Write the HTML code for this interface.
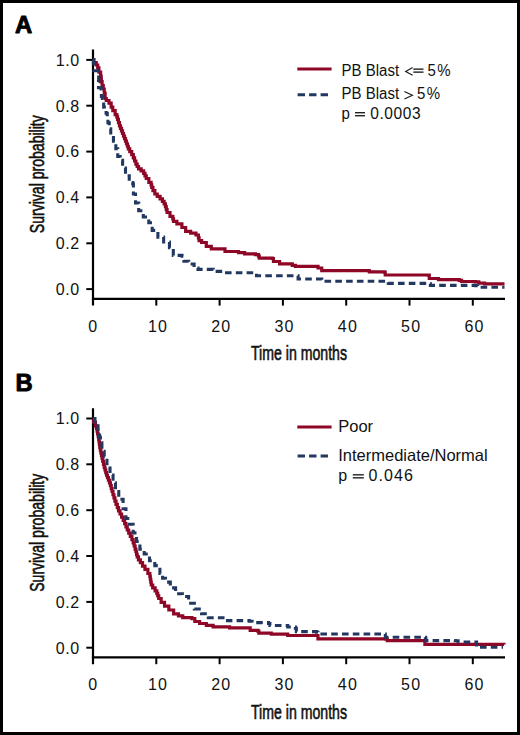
<!DOCTYPE html>
<html><head><meta charset="utf-8"><style>
html,body{margin:0;padding:0;background:#fff;overflow:hidden;width:520px;height:735px;}
svg{display:block;}
text{font-family:"Liberation Sans",sans-serif;fill:#111;}
.tk{font-size:16px;}
.lg{font-size:15px;}
.ax{font-size:19.5px;stroke:#111;stroke-width:0.6px;}
.pl{font-size:23.8px;font-weight:bold;fill:#000;stroke:#000;stroke-width:0.9px;stroke-linejoin:round;}
</style></head><body>
<svg width="520" height="735" viewBox="0 0 520 735">
<rect x="1.5" y="1.5" width="517" height="732" fill="#fff" stroke="#000" stroke-width="3"/>
<text x="15.1" y="32.6" class="pl">A</text>
<text x="15.4" y="390.9" class="pl">B</text>
<line x1="93.0" y1="49.6" x2="93.0" y2="305.6" stroke="#000" stroke-width="2.2"/>
<line x1="91.9" y1="298.8" x2="505" y2="298.8" stroke="#000" stroke-width="2.2"/>
<line x1="86.3" y1="289.1" x2="93.0" y2="289.1" stroke="#000" stroke-width="2"/>
<text x="55.8" y="294.9" class="tk" letter-spacing="0.6">0.0</text>
<line x1="86.3" y1="243.3" x2="93.0" y2="243.3" stroke="#000" stroke-width="2"/>
<text x="55.8" y="249.1" class="tk" letter-spacing="0.6">0.2</text>
<line x1="86.3" y1="197.4" x2="93.0" y2="197.4" stroke="#000" stroke-width="2"/>
<text x="55.8" y="203.2" class="tk" letter-spacing="0.6">0.4</text>
<line x1="86.3" y1="151.6" x2="93.0" y2="151.6" stroke="#000" stroke-width="2"/>
<text x="55.8" y="157.4" class="tk" letter-spacing="0.6">0.6</text>
<line x1="86.3" y1="105.7" x2="93.0" y2="105.7" stroke="#000" stroke-width="2"/>
<text x="55.8" y="111.5" class="tk" letter-spacing="0.6">0.8</text>
<line x1="86.3" y1="59.9" x2="93.0" y2="59.9" stroke="#000" stroke-width="2"/>
<text x="55.8" y="65.7" class="tk" letter-spacing="0.6">1.0</text>
<text x="88.3" y="331.8" class="tk" letter-spacing="1.2">0</text>
<line x1="156.3" y1="298.8" x2="156.3" y2="305.6" stroke="#000" stroke-width="2"/>
<text x="147.9" y="331.8" class="tk" letter-spacing="1.2">10</text>
<line x1="219.6" y1="298.8" x2="219.6" y2="305.6" stroke="#000" stroke-width="2"/>
<text x="211.2" y="331.8" class="tk" letter-spacing="1.2">20</text>
<line x1="282.9" y1="298.8" x2="282.9" y2="305.6" stroke="#000" stroke-width="2"/>
<text x="274.5" y="331.8" class="tk" letter-spacing="1.2">30</text>
<line x1="346.2" y1="298.8" x2="346.2" y2="305.6" stroke="#000" stroke-width="2"/>
<text x="337.8" y="331.8" class="tk" letter-spacing="1.2">40</text>
<line x1="409.5" y1="298.8" x2="409.5" y2="305.6" stroke="#000" stroke-width="2"/>
<text x="401.1" y="331.8" class="tk" letter-spacing="1.2">50</text>
<line x1="472.8" y1="298.8" x2="472.8" y2="305.6" stroke="#000" stroke-width="2"/>
<text x="464.4" y="331.8" class="tk" letter-spacing="1.2">60</text>
<text x="251" y="360.2" class="ax" textLength="96" lengthAdjust="spacingAndGlyphs">Time in months</text>
<text transform="translate(43.8,233.2) rotate(-90)" class="ax" textLength="118" lengthAdjust="spacingAndGlyphs">Survival probability</text>
<polyline points="93.00,59.60 94.00,59.60 94.00,62.70 95.00,62.70 96.25,62.70 96.25,65.00 97.50,65.00 97.70,65.00 97.70,67.80 98.90,67.80 98.90,72.20 100.10,72.20 100.60,72.20 100.60,76.20 101.10,76.20 101.17,76.20 101.17,78.90 101.33,78.90 101.33,81.60 101.40,81.60 102.10,81.60 102.10,85.60 102.80,85.60 103.25,85.60 103.25,89.00 103.70,89.00 104.25,89.00 104.25,93.10 104.80,93.10 105.10,93.10 105.10,98.50 106.25,98.50 106.25,100.50 107.40,100.50 108.95,100.50 108.95,103.20 110.50,103.20 111.15,103.20 111.15,107.20 111.80,107.20 112.80,107.20 112.80,110.60 113.80,110.60 115.15,110.60 115.15,114.60 116.50,114.60 116.85,114.60 116.85,116.95 117.55,116.95 117.55,119.30 117.90,119.30 118.43,119.30 118.43,122.55 119.47,122.55 119.47,125.80 120.00,125.80 120.50,125.80 120.50,128.37 121.50,128.37 121.50,130.93 122.50,130.93 122.50,133.50 123.00,133.50 123.50,133.50 123.50,136.07 124.50,136.07 124.50,138.63 125.50,138.63 125.50,141.20 126.00,141.20 126.47,141.20 126.47,143.73 127.40,143.73 127.40,146.27 128.33,146.27 128.33,148.80 128.80,148.80 129.78,148.80 129.78,151.70 131.72,151.70 131.72,154.60 132.70,154.60 133.33,154.60 133.33,157.80 134.60,157.80 134.60,161.00 135.87,161.00 135.87,164.20 136.50,164.20 137.18,164.20 137.18,166.50 138.52,166.50 138.52,168.80 139.20,168.80 141.10,168.80 141.10,170.80 143.00,170.80 143.65,170.80 143.65,173.37 144.95,173.37 144.95,175.93 146.25,175.93 146.25,178.50 146.90,178.50 148.85,178.50 148.85,182.30 150.80,182.30 151.10,182.30 151.10,184.80 151.70,184.80 151.70,187.30 152.00,187.30 152.95,187.30 152.95,190.65 154.85,190.65 154.85,194.00 155.80,194.00 157.23,194.00 157.23,196.40 160.07,196.40 160.07,198.80 161.50,198.80 162.38,198.80 162.38,201.30 164.12,201.30 164.12,203.80 165.00,203.80 165.42,203.80 165.42,206.70 166.25,206.70 166.25,209.60 167.08,209.60 167.08,212.50 167.50,212.50 170.00,212.50 170.00,216.30 172.50,216.30 172.82,216.30 172.82,218.80 173.48,218.80 173.48,221.30 173.80,221.30 176.90,221.30 176.90,223.80 180.00,223.80 181.90,223.80 181.90,227.50 183.80,227.50 185.65,227.50 185.65,231.30 187.50,231.30 190.65,231.30 190.65,233.10 193.80,233.10 195.95,233.10 195.95,235.00 198.10,235.00 198.43,235.00 198.43,237.80 199.07,237.80 199.07,240.60 199.40,240.60 201.60,240.60 201.60,242.50 203.80,242.50 206.30,242.50 206.30,246.30 208.80,246.30 211.30,246.30 211.30,248.80 213.80,248.80 224.60,248.80 224.60,248.90 225.00,248.90 225.00,251.50 225.40,251.50 238.50,251.50 238.50,252.60 244.60,252.60 244.60,253.80 255.40,253.80 255.40,254.60 258.50,254.60 258.50,256.20 259.25,256.20 259.25,258.20 260.00,258.20 272.30,258.20 272.30,258.50 273.45,258.50 273.45,261.50 274.60,261.50 279.60,261.50 279.60,263.80 284.60,263.80 292.30,263.80 292.30,265.40 295.40,265.40 295.40,266.30 315.40,266.30 318.05,266.30 318.05,268.00 320.70,268.00 321.75,268.00 321.75,270.70 322.80,270.70 367.20,270.70 369.30,270.70 369.30,271.80 384.10,271.80 384.10,272.20 385.20,272.20 385.20,275.00 386.30,275.00 428.10,275.00 428.10,275.20 429.25,275.20 429.25,278.50 430.40,278.50 438.50,278.50 438.50,279.60 459.20,279.60 459.20,280.30 461.50,280.30 461.50,281.50 475.40,281.50 475.40,281.90 478.80,281.90 478.80,283.10 484.60,283.10 484.60,283.80 504.50,283.80" fill="none" stroke="#8f0727" stroke-width="3.2" stroke-linejoin="miter"/>
<polyline points="93.00,59.60 93.35,59.60 93.35,62.70 93.70,62.70 94.00,62.70 94.00,70.80 96.70,70.80 97.70,70.80 97.70,75.50 98.70,75.50 98.70,81.60 98.50,81.60 98.50,87.70 101.10,87.70 101.10,89.00 101.40,89.00 101.40,96.40 101.70,96.40 102.40,96.40 102.40,98.50 103.10,98.50 103.40,98.50 103.40,101.20 103.70,101.20 103.70,107.20 104.40,107.20 104.40,109.90 105.10,109.90 106.10,109.90 106.10,113.30 107.10,113.30 107.25,113.30 107.25,118.60 107.40,118.60 107.95,118.60 107.95,122.70 108.50,122.70 109.25,122.70 109.25,128.80 110.00,128.80 110.75,128.80 110.75,135.40 111.50,135.40 113.45,135.40 113.45,141.20 115.40,141.20 115.85,141.20 115.85,148.80 116.30,148.80 117.75,148.80 117.75,156.50 119.20,156.50 120.20,156.50 120.20,160.40 121.20,160.40 122.60,160.40 122.60,168.00 124.00,168.00 125.50,168.00 125.50,175.80 127.00,175.80 129.25,175.80 129.25,182.50 131.50,182.50 132.70,182.50 132.70,183.80 133.40,183.80 133.40,194.00 134.10,194.00 135.55,194.00 135.55,203.00 137.00,203.00 138.70,203.00 138.70,210.80 140.40,210.80 143.30,210.80 143.30,217.00 146.20,217.00 148.80,217.00 148.80,222.80 151.40,222.80 152.20,222.80 152.20,230.40 153.00,230.40 157.00,230.40 157.00,231.30 157.90,231.30 157.90,237.10 158.80,237.10 163.65,237.10 163.65,242.00 168.50,242.00 169.45,242.00 169.45,247.70 170.40,247.70 173.30,247.70 173.30,255.40 176.20,255.40 182.00,255.40 182.00,256.30 183.90,256.30 183.90,261.20 185.80,261.20 188.65,261.20 188.65,264.00 191.50,264.00 194.10,264.00 194.10,268.00 196.70,268.00 198.00,268.00 198.00,269.40 212.00,269.40 213.25,269.40 213.25,271.40 214.50,271.40 223.00,271.40 225.00,271.40 225.00,272.80 256.00,272.80 256.50,272.80 256.50,275.70 257.00,275.70 297.00,275.70 298.10,275.70 298.10,279.00 299.20,279.00 320.70,279.00 321.75,279.00 321.75,281.30 322.80,281.30 387.30,281.30 388.35,281.30 388.35,283.40 389.40,283.40 428.00,283.40 428.00,283.80 430.40,283.80 430.40,285.40 475.40,285.40 475.40,285.80 477.70,285.80 477.70,287.20 504.50,287.20" fill="none" stroke="#233860" stroke-width="3.1" stroke-dasharray="6.6 4.2"/>
<line x1="297.3" y1="68.95" x2="331.6" y2="68.95" stroke="#8f0727" stroke-width="3"/>
<line x1="297.6" y1="94.8" x2="328.4" y2="94.8" stroke="#233860" stroke-width="3" stroke-dasharray="7.4 4.1"/>
<text transform="translate(341.60,75.80) scale(1,1.08)" class="lg" style="font-size:15px">PB Blast</text>
<polyline points="412.6,67.6 405.7,71.4 412.6,75.3" fill="none" stroke="#1a1a1a" stroke-width="1.15"/>
<rect x="413.3" y="68.45" width="10.20" height="1.35" fill="#1a1a1a"/><rect x="413.3" y="71.45" width="10.20" height="1.35" fill="#1a1a1a"/>
<text transform="translate(427.40,75.80) scale(1,1.08)" class="lg" style="font-size:15px" letter-spacing="1.6">5%</text>
<text transform="translate(341.60,99.40) scale(1,1.08)" class="lg" style="font-size:15px">PB Blast</text>
<polyline points="404.4,91.6 412.4,95.3 404.4,99.0" fill="none" stroke="#1a1a1a" stroke-width="1.15"/>
<text transform="translate(417.00,99.40) scale(1,1.08)" class="lg" style="font-size:15px" letter-spacing="1.4">5%</text>
<text transform="translate(341.60,119.30) scale(1,1.08)" class="lg" style="font-size:15px">p</text>
<rect x="355.0" y="112.05" width="10.00" height="1.35" fill="#1a1a1a"/><rect x="355.0" y="115.05" width="10.00" height="1.35" fill="#1a1a1a"/>
<text transform="translate(370.20,119.30) scale(1,1.08)" class="lg" style="font-size:15.5px" letter-spacing="0.6">0.0003</text>
<line x1="93.0" y1="408.2" x2="93.0" y2="664.2" stroke="#000" stroke-width="2.2"/>
<line x1="91.9" y1="657.4" x2="505" y2="657.4" stroke="#000" stroke-width="2.2"/>
<line x1="86.3" y1="647.7" x2="93.0" y2="647.7" stroke="#000" stroke-width="2"/>
<text x="55.8" y="653.5" class="tk" letter-spacing="0.6">0.0</text>
<line x1="86.3" y1="601.9" x2="93.0" y2="601.9" stroke="#000" stroke-width="2"/>
<text x="55.8" y="607.7" class="tk" letter-spacing="0.6">0.2</text>
<line x1="86.3" y1="556.0" x2="93.0" y2="556.0" stroke="#000" stroke-width="2"/>
<text x="55.8" y="561.8" class="tk" letter-spacing="0.6">0.4</text>
<line x1="86.3" y1="510.2" x2="93.0" y2="510.2" stroke="#000" stroke-width="2"/>
<text x="55.8" y="516.0" class="tk" letter-spacing="0.6">0.6</text>
<line x1="86.3" y1="464.3" x2="93.0" y2="464.3" stroke="#000" stroke-width="2"/>
<text x="55.8" y="470.1" class="tk" letter-spacing="0.6">0.8</text>
<line x1="86.3" y1="418.5" x2="93.0" y2="418.5" stroke="#000" stroke-width="2"/>
<text x="55.8" y="424.3" class="tk" letter-spacing="0.6">1.0</text>
<text x="88.3" y="690.4" class="tk" letter-spacing="1.2">0</text>
<line x1="156.3" y1="657.4" x2="156.3" y2="664.2" stroke="#000" stroke-width="2"/>
<text x="147.9" y="690.4" class="tk" letter-spacing="1.2">10</text>
<line x1="219.6" y1="657.4" x2="219.6" y2="664.2" stroke="#000" stroke-width="2"/>
<text x="211.2" y="690.4" class="tk" letter-spacing="1.2">20</text>
<line x1="282.9" y1="657.4" x2="282.9" y2="664.2" stroke="#000" stroke-width="2"/>
<text x="274.5" y="690.4" class="tk" letter-spacing="1.2">30</text>
<line x1="346.2" y1="657.4" x2="346.2" y2="664.2" stroke="#000" stroke-width="2"/>
<text x="337.8" y="690.4" class="tk" letter-spacing="1.2">40</text>
<line x1="409.5" y1="657.4" x2="409.5" y2="664.2" stroke="#000" stroke-width="2"/>
<text x="401.1" y="690.4" class="tk" letter-spacing="1.2">50</text>
<line x1="472.8" y1="657.4" x2="472.8" y2="664.2" stroke="#000" stroke-width="2"/>
<text x="464.4" y="690.4" class="tk" letter-spacing="1.2">60</text>
<text x="251" y="719.2" class="ax" textLength="96" lengthAdjust="spacingAndGlyphs">Time in months</text>
<text transform="translate(43.8,591.8) rotate(-90)" class="ax" textLength="118" lengthAdjust="spacingAndGlyphs">Survival probability</text>
<polyline points="93.00,418.60 93.80,418.60 93.80,422.20 95.40,422.20 95.40,425.80 96.20,425.80 96.49,425.80 96.49,428.50 97.06,428.50 97.06,431.20 97.64,431.20 97.64,433.90 98.21,433.90 98.21,436.60 98.50,436.60 98.69,436.60 98.69,439.30 99.06,439.30 99.06,442.00 99.44,442.00 99.44,444.70 99.81,444.70 99.81,447.40 100.00,447.40 100.29,447.40 100.29,450.10 100.86,450.10 100.86,452.80 101.44,452.80 101.44,455.50 102.01,455.50 102.01,458.20 102.30,458.20 102.68,458.20 102.68,461.27 103.45,461.27 103.45,464.33 104.22,464.33 104.22,467.40 104.60,467.40 104.98,467.40 104.98,469.97 105.75,469.97 105.75,472.53 106.52,472.53 106.52,475.10 106.90,475.10 107.42,475.10 107.42,477.67 108.45,477.67 108.45,480.23 109.48,480.23 109.48,482.80 110.00,482.80 110.42,482.80 110.42,485.70 111.25,485.70 111.25,488.60 112.08,488.60 112.08,491.50 112.50,491.50 112.98,491.50 112.98,494.73 113.95,494.73 113.95,497.97 114.92,497.97 114.92,501.20 115.40,501.20 116.03,501.20 116.03,504.40 117.30,504.40 117.30,507.60 118.57,507.60 118.57,510.80 119.20,510.80 120.00,510.80 120.00,514.00 121.60,514.00 121.60,517.20 123.20,517.20 123.20,520.40 124.00,520.40 124.65,520.40 124.65,523.60 125.95,523.60 125.95,526.80 127.25,526.80 127.25,530.00 127.90,530.00 128.70,530.00 128.70,533.20 130.30,533.20 130.30,536.40 131.90,536.40 131.90,539.60 132.70,539.60 133.18,539.60 133.18,542.80 134.15,542.80 134.15,546.00 135.12,546.00 135.12,549.20 135.60,549.20 135.92,549.20 135.92,551.77 136.55,551.77 136.55,554.33 137.18,554.33 137.18,556.90 137.50,556.90 138.45,556.90 138.45,559.80 140.35,559.80 140.35,562.70 141.30,562.70 142.53,562.70 142.53,566.05 144.97,566.05 144.97,569.40 146.20,569.40 147.90,569.40 147.90,573.50 149.60,573.50 149.84,573.50 149.84,576.38 150.31,576.38 150.31,579.25 150.79,579.25 150.79,582.12 151.26,582.12 151.26,585.00 151.50,585.00 152.70,585.00 152.70,587.90 155.10,587.90 155.10,590.80 156.30,590.80 156.78,590.80 156.78,593.37 157.75,593.37 157.75,595.93 158.72,595.93 158.72,598.50 159.20,598.50 161.15,598.50 161.15,602.30 163.10,602.30 164.55,602.30 164.55,606.20 166.00,606.20 168.85,606.20 168.85,610.00 171.70,610.00 173.65,610.00 173.65,613.80 175.60,613.80 178.45,613.80 178.45,615.80 181.30,615.80 182.75,615.80 182.75,617.70 184.20,617.70 191.90,617.70 191.90,618.70 194.80,618.70 194.80,621.50 197.70,621.50 199.60,621.50 199.60,623.50 201.50,623.50 206.35,623.50 206.35,625.40 211.20,625.40 213.10,625.40 213.10,626.90 226.20,626.90 229.60,626.90 229.60,627.80 249.20,627.80 250.20,627.80 250.20,630.30 251.20,630.30 257.90,630.30 257.90,631.20 258.85,631.20 258.85,633.20 259.80,633.20 271.30,633.20 271.30,634.10 287.70,634.10 287.70,635.50 316.50,635.50 317.95,635.50 317.95,638.90 319.40,638.90 385.40,638.90 385.40,639.20 387.30,639.20 387.30,640.60 424.40,640.60 424.90,640.60 424.90,644.40 425.40,644.40 504.00,644.40 504.00,644.60" fill="none" stroke="#8f0727" stroke-width="3.2" stroke-linejoin="miter"/>
<polyline points="93.00,418.60 94.95,418.60 94.95,424.30 96.90,424.30 98.05,424.30 98.05,432.00 99.20,432.00 99.60,432.00 99.60,437.40 100.40,437.40 100.40,442.80 100.80,442.80 101.90,442.80 101.90,451.20 103.00,451.20 104.20,451.20 104.20,456.60 105.40,456.60 106.95,456.60 106.95,465.80 108.50,465.80 110.00,465.80 110.00,475.10 111.50,475.10 113.05,475.10 113.05,482.80 114.60,482.80 115.45,482.80 115.45,491.50 116.30,491.50 118.75,491.50 118.75,499.20 121.20,499.20 123.10,499.20 123.10,508.80 125.00,508.80 125.95,508.80 125.95,518.50 126.90,518.50 129.30,518.50 129.30,524.20 131.70,524.20 133.15,524.20 133.15,532.90 134.60,532.90 136.55,532.90 136.55,541.50 138.50,541.50 139.90,541.50 139.90,549.20 141.30,549.20 144.20,549.20 144.20,554.00 147.10,554.00 149.50,554.00 149.50,560.80 151.90,560.80 154.80,560.80 154.80,565.60 157.70,565.60 159.90,565.60 159.90,573.50 162.10,573.50 162.60,573.50 162.60,578.30 163.10,578.30 165.50,578.30 165.50,582.10 167.90,582.10 170.30,582.10 170.30,587.90 172.70,587.90 175.60,587.90 175.60,593.70 178.50,593.70 182.35,593.70 182.35,596.50 186.20,596.50 188.60,596.50 188.60,603.30 191.00,603.30 194.35,603.30 194.35,609.00 197.70,609.00 201.55,609.00 201.55,613.80 205.40,613.80 208.30,613.80 208.30,617.70 211.20,617.70 224.60,617.70 227.50,617.70 227.50,620.60 230.40,620.60 249.20,620.60 249.20,621.20 252.10,621.20 252.10,622.60 268.50,622.60 268.50,623.50 269.90,623.50 269.90,625.50 271.30,625.50 287.70,625.50 287.70,627.00 295.40,627.00 295.40,628.30 296.35,628.30 296.35,631.60 297.30,631.60 316.50,631.60 316.50,632.20 317.95,632.20 317.95,634.00 319.40,634.00 384.40,634.00 385.35,634.00 385.35,637.30 386.30,637.30 425.40,637.30 425.40,638.10 425.85,638.10 425.85,640.60 426.30,640.60 455.20,640.60 455.20,640.80 458.10,640.80 458.10,642.00 475.40,642.00 476.55,642.00 476.55,647.20 477.70,647.20 503.00,647.20" fill="none" stroke="#233860" stroke-width="3.1" stroke-dasharray="6.6 4.2"/>
<line x1="297.3" y1="427.0" x2="331.6" y2="427.0" stroke="#8f0727" stroke-width="3"/>
<line x1="297.6" y1="455.9" x2="328.4" y2="455.9" stroke="#233860" stroke-width="3" stroke-dasharray="7.4 4.1"/>
<text transform="translate(338.20,431.50) scale(1,1.0)" class="lg" style="font-size:16.5px">Poor</text>
<text transform="translate(338.20,460.70) scale(1,1.0)" class="lg" style="font-size:16.5px">Intermediate/Normal</text>
<text transform="translate(338.20,481.00) scale(1,1.0)" class="lg" style="font-size:16px">p</text>
<rect x="352.8" y="474.15" width="11.00" height="1.35" fill="#1a1a1a"/><rect x="352.8" y="477.15" width="11.00" height="1.35" fill="#1a1a1a"/>
<text transform="translate(368.50,481.00) scale(1,1.0)" class="lg" style="font-size:16px" letter-spacing="1.1">0.046</text>
</svg>
</body></html>
